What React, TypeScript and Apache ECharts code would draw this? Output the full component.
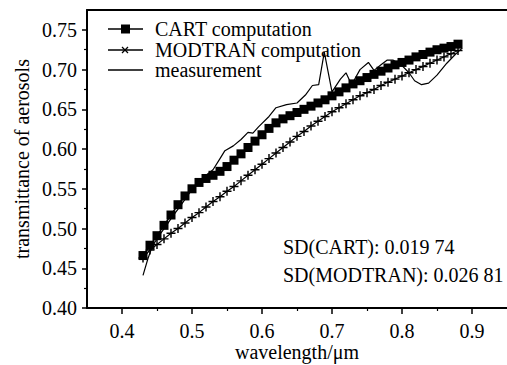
import React, { useEffect, useRef } from "react";
import * as echarts from "echarts";

const FONT = "Liberation Serif";

// wavelength grid of the two computations (µm)
const wavelengths = [
  0.43, 0.44, 0.45, 0.46, 0.47, 0.48, 0.49,
  0.5, 0.51, 0.52, 0.53, 0.54, 0.55, 0.56, 0.57, 0.58, 0.59,
  0.6, 0.61, 0.62, 0.63, 0.64, 0.65, 0.66, 0.67, 0.68, 0.69,
  0.7, 0.71, 0.72, 0.73, 0.74, 0.75, 0.76, 0.77, 0.78, 0.79,
  0.8, 0.81, 0.82, 0.83, 0.84, 0.85, 0.86, 0.87, 0.88,
];

const cartValues = [
  0.466, 0.479, 0.491, 0.504, 0.517, 0.53, 0.541,
  0.55, 0.558, 0.563, 0.567, 0.572, 0.578, 0.586, 0.594, 0.602, 0.61,
  0.618, 0.626, 0.633, 0.638, 0.642, 0.646, 0.65, 0.654, 0.658, 0.662,
  0.667, 0.672, 0.677, 0.682, 0.686, 0.69, 0.694, 0.698, 0.702, 0.706,
  0.709, 0.712, 0.716, 0.719, 0.722, 0.725, 0.727, 0.729, 0.732,
];

const modtranValues = [
  0.463, 0.473, 0.48, 0.487, 0.494, 0.5, 0.507,
  0.514, 0.52, 0.527, 0.534, 0.54, 0.547, 0.553, 0.56, 0.567, 0.574,
  0.581, 0.588, 0.595, 0.602, 0.609, 0.616, 0.622, 0.629, 0.635, 0.641,
  0.647, 0.652, 0.657, 0.662, 0.667, 0.671, 0.675, 0.68, 0.684, 0.688,
  0.692, 0.696, 0.7, 0.704, 0.708, 0.712, 0.716, 0.72, 0.724,
];

const measWavelengths = [
  0.43, 0.437, 0.443, 0.452, 0.462, 0.472, 0.483, 0.495, 0.507, 0.52,
  0.53, 0.54, 0.547, 0.559, 0.57, 0.58, 0.587, 0.595, 0.61, 0.62,
  0.635, 0.65, 0.662, 0.672, 0.681, 0.689, 0.7, 0.712, 0.72, 0.728,
  0.74, 0.752, 0.76, 0.77, 0.779, 0.787, 0.8, 0.81, 0.818, 0.828,
  0.838, 0.85, 0.864, 0.876, 0.886,
];
const measValues = [
  0.441, 0.462, 0.477, 0.49, 0.502, 0.515, 0.528, 0.543, 0.557, 0.567,
  0.574, 0.588, 0.598, 0.604, 0.612, 0.621, 0.62, 0.628, 0.641, 0.652,
  0.656, 0.658, 0.668, 0.68, 0.681, 0.722, 0.672, 0.688, 0.696, 0.681,
  0.7, 0.709, 0.699, 0.706, 0.712, 0.712, 0.705, 0.696, 0.686, 0.681,
  0.683, 0.693, 0.708, 0.719, 0.727,
];

const xTicks = [0.4, 0.5, 0.6, 0.7, 0.8, 0.9];
const xMinorTicks = [0.45, 0.55, 0.65, 0.75, 0.85];
const yTicks = [0.4, 0.45, 0.5, 0.55, 0.6, 0.65, 0.7, 0.75];
const yMinorTicks = [0.425, 0.475, 0.525, 0.575, 0.625, 0.675, 0.725];

const xTitle = "wavelength/μm";
const yTitle = "transmittance of aerosols";
const legendNames = ["CART computation", "MODTRAN computation", "measurement"];
const sdTexts = ["SD(CART): 0.019 74", "SD(MODTRAN): 0.026 81"];

const plusPath = "path://M4.2,0H5.8V4.2H10V5.8H5.8V10H4.2V5.8H0V4.2H4.2Z";

const rich = { a: { fontSize: 20, fontFamily: FONT, color: "#000" } };

export default function App() {
  const ref = useRef<HTMLDivElement>(null);
  useEffect(() => {
    document.body.style.margin = "0";
    const chart = echarts.init(ref.current!, null, { renderer: "svg" });
    const axisLine = { show: true, lineStyle: { color: "#000", width: 2 } };
    const rowY = [29, 50, 70];
    const option: any = {
      animation: false,
      backgroundColor: "#fff",
      grid: { left: 87, top: 10, right: 0, bottom: 57, containLabel: false, outerBoundsMode: "none" },
      xAxis: [
        {
          type: "value",
          min: 0.35,
          max: 0.95,
          interval: 0.05,
          axisLine,
          axisTick: { show: true, customValues: xTicks, length: 6, lineStyle: { color: "#000", width: 1.5 } },
          axisLabel: {
            customValues: xTicks,
            margin: 13,
            formatter: (v: number) => "{a|" + v.toFixed(1) + "}",
            rich,
          },
          splitLine: { show: false },
          name: "{a|" + xTitle + "}",
          nameLocation: "middle",
          nameGap: 34,
          nameMoveOverlap: false,
          nameTextStyle: { rich },
        },
        {
          type: "value",
          min: 0.35,
          max: 0.95,
          interval: 0.05,
          position: "bottom",
          axisLine: { show: false },
          axisTick: { show: true, customValues: xMinorTicks, length: 3, lineStyle: { color: "#000", width: 1.2 } },
          axisLabel: { show: false },
          splitLine: { show: false },
        },
        {
          type: "value",
          min: 0.35,
          max: 0.95,
          position: "top",
          axisLine,
          axisTick: { show: false },
          axisLabel: { show: false },
          splitLine: { show: false },
        },
      ],
      yAxis: [
        {
          type: "value",
          min: 0.4,
          max: 0.775,
          interval: 0.05,
          axisLine,
          axisTick: { show: true, customValues: yTicks, length: 5, lineStyle: { color: "#000", width: 1.5 } },
          axisLabel: {
            customValues: yTicks,
            margin: 10,
            formatter: (v: number) => "{a|" + v.toFixed(2) + "}",
            rich,
          },
          splitLine: { show: false },
          name: "{a|" + yTitle + "}",
          nameLocation: "middle",
          nameGap: 55,
          nameMoveOverlap: false,
          nameTextStyle: { rich },
        },
        {
          type: "value",
          min: 0.4,
          max: 0.775,
          interval: 0.05,
          position: "left",
          axisLine: { show: false },
          axisTick: { show: true, customValues: yMinorTicks, length: 3, lineStyle: { color: "#000", width: 1.2 } },
          axisLabel: { show: false },
          splitLine: { show: false },
        },
      ],
      series: [
        {
          name: legendNames[2],
          type: "line",
          data: measWavelengths.map((x, i) => [x, measValues[i]]),
          showSymbol: false,
          symbol: "none",
          lineStyle: { color: "#000", width: 1.2 },
          z: 3,
        },
        {
          name: legendNames[1],
          type: "line",
          data: wavelengths.map((x, i) => [x, modtranValues[i]]),
          symbol: plusPath,
          symbolSize: 9,
          itemStyle: { color: "#000" },
          lineStyle: { color: "#000", width: 1.2 },
          z: 4,
        },
        {
          name: legendNames[0],
          type: "line",
          data: wavelengths.map((x, i) => [x, cartValues[i]]),
          symbol: "rect",
          symbolSize: 9,
          itemStyle: { color: "#000" },
          lineStyle: { color: "#000", width: 1.5 },
          z: 5,
        },
      ],
      graphic: [
        // legend
        { type: "line", shape: { x1: 108, y1: rowY[0], x2: 143, y2: rowY[0] }, style: { stroke: "#000", lineWidth: 1.5 } },
        { type: "rect", shape: { x: 121, y: rowY[0] - 4.5, width: 9, height: 9 }, style: { fill: "#000" } },
        { type: "line", shape: { x1: 108, y1: rowY[1], x2: 143, y2: rowY[1] }, style: { stroke: "#000", lineWidth: 1.5 } },
        { type: "line", shape: { x1: 122, y1: rowY[1] - 3, x2: 128, y2: rowY[1] + 3 }, style: { stroke: "#000", lineWidth: 1.3 } },
        { type: "line", shape: { x1: 122, y1: rowY[1] + 3, x2: 128, y2: rowY[1] - 3 }, style: { stroke: "#000", lineWidth: 1.3 } },
        { type: "line", shape: { x1: 108, y1: rowY[2], x2: 143, y2: rowY[2] }, style: { stroke: "#000", lineWidth: 1.5 } },
        ...legendNames.map((t, i) => ({
          type: "text",
          x: 155,
          y: rowY[i],
          style: { text: t, fontSize: 20, fontFamily: FONT, fill: "#000", verticalAlign: "middle" },
        })),
        ...sdTexts.map((t, i) => ({
          type: "text",
          x: 283,
          y: [247, 275][i],
          style: { text: t, fontSize: 20, fontFamily: FONT, fill: "#000", verticalAlign: "middle" },
        })),
      ],
    };
    chart.setOption(option);
    return () => chart.dispose();
  }, []);
  return <div ref={ref} style={{ width: 507, height: 365 }} />;
}
